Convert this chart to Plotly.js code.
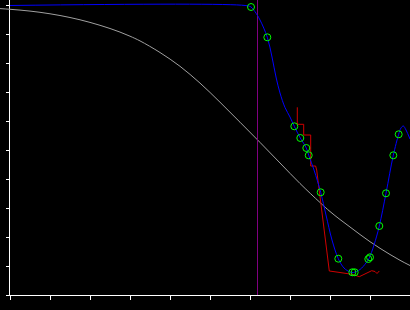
<!DOCTYPE html>
<html><head><meta charset="utf-8">
<script src="https://cdn.plot.ly/plotly-3.0.1.min.js"></script>
<style>html,body{margin:0;padding:0;background:#000;}#chart{width:410px;height:310px;}</style>
</head><body><div id="chart"></div>
<script>
// Gray reference curve
const grayX = [-0.25, 0, 0.25, 0.5, 0.75, 1.0, 1.25, 1.5, 1.75, 2.0, 2.25, 2.5, 2.75, 3.0, 3.25, 3.75, 4.25, 4.75, 5.25, 5.75, 6.25, 6.75, 7.25, 7.75, 8.0, 8.25, 8.5, 8.75, 9.0, 9.25, 9.5, 9.75, 10.0];
const grayY = [9.876, 9.852, 9.824, 9.790, 9.748, 9.697, 9.638, 9.569, 9.490, 9.400, 9.300, 9.190, 9.066, 8.924, 8.762, 8.362, 7.886, 7.307, 6.648, 5.959, 5.262, 4.552, 3.845, 3.190, 2.879, 2.603, 2.345, 2.086, 1.838, 1.610, 1.397, 1.197, 1.017];
// Blue fitted line
const blueX = [0, 5.875, 6.025, 6.125, 6.25, 6.4325, 6.55, 6.65, 6.75, 6.875, 7.0, 7.1075, 7.2575, 7.4075, 7.4675, 7.6, 7.7675, 7.9, 8.05, 8.2075, 8.35, 8.5, 8.5875, 8.75, 8.9, 8.975, 9.1, 9.2325, 9.4, 9.5825, 9.7175, 9.775, 9.8325, 9.9, 10.0];
const blueY = [9.983, 9.983, 9.931, 9.769, 9.483, 8.886, 8.207, 7.517, 6.966, 6.466, 6.138, 5.817, 5.414, 5.069, 4.817, 4.310, 3.541, 2.759, 1.897, 1.252, 0.931, 0.793, 0.776, 0.879, 1.103, 1.259, 1.724, 2.379, 3.507, 4.817, 5.541, 5.759, 5.828, 5.690, 5.379];
// Green sample points
const ptX = [6.025, 6.433, 7.108, 7.258, 7.408, 7.468, 7.767, 8.208, 8.558, 8.617, 8.958, 9.0, 9.233, 9.4, 9.583, 9.717];
const ptY = [9.931, 8.886, 5.817, 5.414, 5.069, 4.817, 3.541, 1.252, 0.783, 0.783, 1.241, 1.300, 2.379, 3.507, 4.817, 5.541];
// Red measured line
const redX = [7.1825, 7.1825, 7.3425, 7.3425, 7.5175, 7.5175, 7.64, 7.6675, 7.7075, 7.75, 7.7925, 7.85, 7.9, 7.9575, 7.9825, 8.25, 8.5, 8.5825, 8.7325, 8.8, 8.9175, 9.0425, 9.125, 9.175, 9.2325];
const redY = [6.472, 5.886, 5.886, 5.517, 5.517, 4.448, 4.448, 4.310, 3.862, 3.379, 3.034, 2.345, 1.655, 1.103, 0.828, 0.776, 0.724, 0.707, 0.631, 0.679, 0.776, 0.838, 0.810, 0.741, 0.828];
// Purple marker line
const vlineX = [6.1875, 6.1875];
const vlineY = [0, 10.1724];

const traces = [
  {x: [], y: [], xaxis: 'x', yaxis: 'y', type: 'scatter', showlegend: false},
  {x: grayX, y: grayY, xaxis: 'x2', yaxis: 'y', mode: 'lines', line: {color: '#a0a0a0', width: 1, shape: 'spline'}, showlegend: false, hoverinfo: 'skip'},
  {x: vlineX, y: vlineY, xaxis: 'x2', yaxis: 'y', mode: 'lines', line: {color: '#800080', width: 1}, showlegend: false, hoverinfo: 'skip'},
  {x: redX, y: redY, xaxis: 'x2', yaxis: 'y', mode: 'lines', line: {color: '#d00000', width: 1}, showlegend: false, hoverinfo: 'skip'},
  {x: blueX, y: blueY, xaxis: 'x2', yaxis: 'y', mode: 'lines', line: {color: '#0000ff', width: 1, shape: 'spline'}, showlegend: false, hoverinfo: 'skip'},
  {x: ptX, y: ptY, xaxis: 'x2', yaxis: 'y', mode: 'markers', marker: {symbol: 'circle-open', size: 7, color: '#00ff00', line: {width: 1, color: '#00ff00'}}, showlegend: false, hoverinfo: 'skip'}
];

const layout = {
  width: 410, height: 310,
  margin: {l: 0, r: 0, t: 0, b: 15, pad: 0},
  paper_bgcolor: '#000', plot_bgcolor: 'rgba(0,0,0,0)',
  showlegend: false,
  xaxis: {domain: [10/410, 1], range: [0, 10], dtick: 1, tick0: 0, anchor: 'y',
    showline: true, linecolor: '#fff', linewidth: 1, ticks: 'outside', ticklen: 4, tickcolor: '#fff', tickwidth: 1,
    showticklabels: false, showgrid: false, zeroline: false, fixedrange: true},
  xaxis2: {domain: [0, 1], range: [-0.25, 10], anchor: 'y', visible: false, fixedrange: true},
  yaxis: {domain: [0, 1], range: [0, 10.1724], dtick: 1, tick0: 0, anchor: 'x',
    showline: true, linecolor: '#fff', linewidth: 1, ticks: 'outside', ticklen: 3, tickcolor: '#fff', tickwidth: 1,
    showticklabels: false, showgrid: false, zeroline: false, fixedrange: true}
};

Plotly.newPlot('chart', traces, layout, {staticPlot: true, displayModeBar: false});
</script></body></html>
